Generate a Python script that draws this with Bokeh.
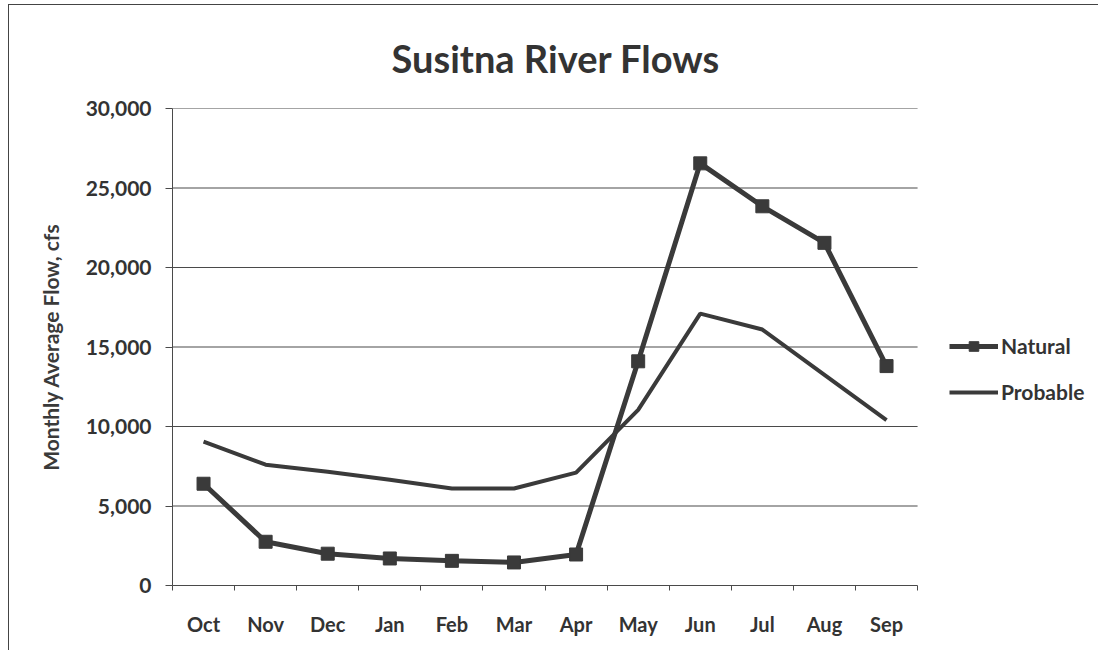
from bokeh.plotting import figure
from bokeh.models import Range1d, FixedTicker, Legend, LegendItem, NumeralTickFormatter
from bokeh.embed import file_html
from bokeh.resources import INLINE

months = ["Oct", "Nov", "Dec", "Jan", "Feb", "Mar", "Apr", "May", "Jun", "Jul", "Aug", "Sep"]
natural = [6400, 2750, 2000, 1700, 1550, 1450, 1950, 14100, 26550, 23850, 21550, 13800]
probable = [9050, 7600, 7150, 6650, 6100, 6100, 7100, 11050, 17100, 16100, 13250, 10400]
y_ticks = [0, 5000, 10000, 15000, 20000, 25000, 30000]

n = len(months)
xs = [i + 0.5 for i in range(n)]

FONT = "Lato"
DARK = "#3a3a3a"
GRID = "#4a4a4a"

# frame extends to the right so the legend (drawn inside it) is not clipped;
# data area covers x in [0, n]
p = figure(width=1090, height=646, output_backend="svg", toolbar_location=None,
           x_range=Range1d(0, 14.93), y_range=Range1d(0, 30000),
           min_border_left=163, min_border_right=0, min_border_top=99, min_border_bottom=66,
           styles={"border-left": "1px solid #444", "border-top": "1px solid #444",
                   "margin-left": "8px", "margin-top": "4px"})
p.outline_line_color = None
p.background_fill_color = "white"

p.title.text = "Susitna River Flows"
p.title.text_font = FONT
p.title.text_font_style = "bold"
p.title.text_font_size = "38px"
p.title.text_color = "#333333"
p.title.align = "left"
p.title.offset = 219
p.title.standoff = 55

# gridlines limited to the data area
p.xgrid.grid_line_color = None
p.ygrid.grid_line_color = None
grid_vals = y_ticks[1:]
p.segment(x0=[0] * len(grid_vals), x1=[n] * len(grid_vals), y0=grid_vals, y1=grid_vals,
          line_color=GRID, line_width=1.2)

# x axis: labels at centers, ticks at boundaries
p.xaxis.bounds = (0, n)
p.xaxis.ticker = FixedTicker(ticks=xs, minor_ticks=list(range(n + 1)))
p.xaxis.major_label_overrides = {x: m for x, m in zip(xs, months)}
p.xaxis.major_tick_line_color = None
p.xaxis.minor_tick_line_color = GRID
p.xaxis.minor_tick_in = 0
p.xaxis.minor_tick_out = 5
p.xaxis.axis_line_color = GRID
p.xaxis.axis_line_width = 1.2
p.xaxis.major_label_text_font = FONT
p.xaxis.major_label_text_font_style = "bold"
p.xaxis.major_label_text_font_size = "20px"
p.xaxis.major_label_text_color = "#333333"
p.xaxis.major_label_standoff = 20

p.yaxis.ticker = FixedTicker(ticks=y_ticks)
p.yaxis.formatter = NumeralTickFormatter(format="0,0")
p.yaxis.minor_tick_line_color = None
p.yaxis.major_tick_in = 0
p.yaxis.major_tick_out = 7
p.yaxis.major_tick_line_color = GRID
p.yaxis.axis_line_color = GRID
p.yaxis.major_label_text_font = FONT
p.yaxis.major_label_text_font_style = "bold"
p.yaxis.major_label_text_font_size = "21px"
p.yaxis.major_label_text_color = "#333333"
p.yaxis.major_label_standoff = 14
p.yaxis.axis_label = "Monthly Average Flow, cfs"
p.yaxis.axis_label_text_font = FONT
p.yaxis.axis_label_text_font_style = "bold"
p.yaxis.axis_label_text_font_size = "21px"
p.yaxis.axis_label_text_color = "#3a3a3a"
p.yaxis.axis_label_standoff = 20

r_nat = p.line(xs, natural, line_color=DARK, line_width=5)
r_nat_m = p.scatter(xs, natural, marker="square", size=13, fill_color=DARK, line_color=DARK)
r_prob = p.line(xs, probable, line_color=DARK, line_width=4)

legend = Legend(items=[LegendItem(label="Natural", renderers=[r_nat, r_nat_m]),
                       LegendItem(label="Probable", renderers=[r_prob])],
                location=(777, 181), padding=0, margin=0, border_line_color=None,
                background_fill_alpha=0,
                label_text_font=FONT, label_text_font_style="bold", label_text_font_size="21px",
                label_text_color="#333333", glyph_width=49, glyph_height=24, label_height=24,
                label_standoff=3, spacing=21)
p.add_layout(legend, "center")

open("out.html", "w").write(file_html(p, INLINE))
